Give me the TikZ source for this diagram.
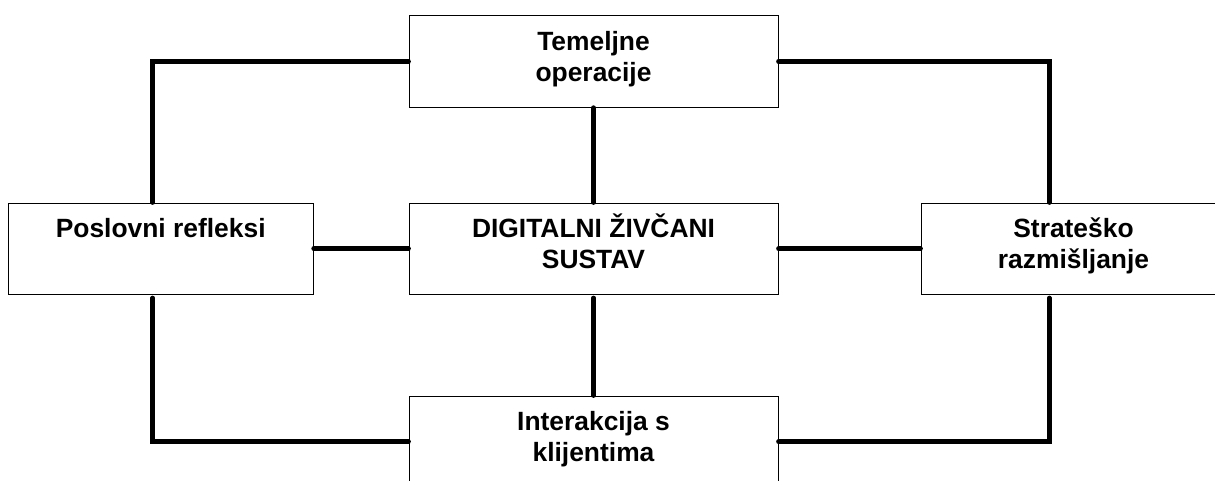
\documentclass[tikz,border=0pt]{standalone}
\usepackage{fontspec}
\setmainfont{Liberation Sans}
\newcommand{\bt}[2]{\rule{0pt}{34.5pt}#1\\#2\rule[-26pt]{0pt}{26pt}}
\begin{document}
\begin{tikzpicture}[x=1pt,y=-1pt,
  box/.style={draw, line width=0.9pt, inner sep=0pt, minimum height=91.5pt, align=center,
    font=\bfseries\fontsize{26.4}{31}\selectfont},
  wide/.style={minimum width=369pt},
  side/.style={minimum width=305pt},
  conn/.style={line width=4.6pt, line cap=round}]
\useasboundingbox (0,0) rectangle (1215,481);
\node[box,wide] (top) at (593.5,61.45) {\bt{Temeljne}{operacije}};
\node[box,wide] (center) at (593.5,248.75) {\bt{DIGITALNI ŽIVČANI}{SUSTAV}};
\node[box,side] (left) at (160.7,248.75) {\bt{Poslovni refleksi}{}};
\node[box,side] (right) at (1073.5,248.75) {\bt{Strateško}{razmišljanje}};
\node[box,wide] (bot) at (593.5,441.75) {\bt{Interakcija s}{klijentima}};
\coordinate (lx) at (152.7,0);
\coordinate (rx) at (1049.3,0);
\draw[conn] (top.west) -| (lx |- left.north);
\draw[conn, shorten <=3pt] (left.south -| lx) |- (bot.west);
\draw[conn] (left.east) -- (center.west);
\draw[conn] (top.south) -- (center.north);
\draw[conn, shorten <=3pt] (center.south) -- (bot.north);
\draw[conn] (top.east) -| (rx |- right.north);
\draw[conn, shorten <=3pt] (right.south -| rx) |- (bot.east);
\draw[conn] (center.east) -- (right.west);
\end{tikzpicture}
\end{document}
